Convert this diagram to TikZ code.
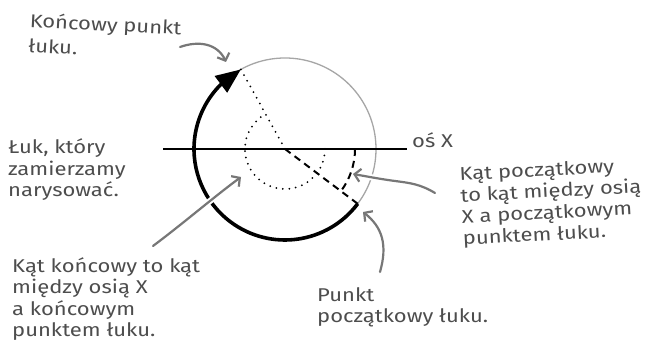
\documentclass[tikz,border=0pt]{standalone}
\usepackage{fontspec}
\setmainfont[FakeStretch=1.19]{Fira Sans}
\usetikzlibrary{arrows.meta,bending}
\definecolor{txt}{HTML}{4D4D4D}
\definecolor{arr}{HTML}{777777}
\definecolor{circ}{HTML}{A6A6A6}
\begin{document}
\begin{tikzpicture}[x=1pt,y=1pt,
  lbl/.style={text=txt, font=\fontsize{18.5}{21.5}\selectfont, align=left, inner sep=0pt, anchor=base west},
  callout/.style={draw=arr, line width=2.2pt, line cap=round, line join=round,
     -{Straight Barb[length=6pt,width=13pt]},
     preaction={draw=white, line width=6pt, -}},
  dotline/.style={line width=2pt, line cap=round, dash pattern=on 0pt off 6.5pt},
  dashline/.style={line width=2pt, dash pattern=on 7pt off 5pt},
]
\useasboundingbox (0,0) rectangle (651,344);
\coordinate (C) at (285,195);
\path (C) ++(-37:91) coordinate (S);
\path (C) ++(119:91) coordinate (E);
\path (C) ++(0:40) coordinate (D0);
\path (C) ++(0:70) coordinate (H0);
\coordinate (axL) at (163,195);
\coordinate (axR) at (407,195);

% full circle (grey)
\draw[circ, line width=1.3pt] (C) circle[radius=91];
% axis
\draw[line width=1.5pt] (axL) -- (axR);
% dotted radius and angle
\draw[dotline] (C) -- (E);
\draw[dotline] (D0) arc[start angle=0, end angle=-241, radius=40];
% dashed radius and angle
\draw[dashline] (C) -- (S);
\draw[dashline] (H0) arc[start angle=0, end angle=-37, radius=70];
% the arc itself
\draw[line width=3.6pt, -{Triangle[length=25pt,width=20pt,flex]}] (S) arc[start angle=-37, end angle=-241, radius=91];

% labels (anchor = baseline of the last line)
\node[lbl, rotate=-3, font=\fontsize{18.5}{25}\selectfont] (t1) at (28,292) {Końcowy punkt\\łuku.};
\node[lbl] (t2) at (8,147) {Łuk, który\\zamierzamy\\narysować.};
\node[lbl, rotate=3, font=\fontsize{18.5}{21.5}\selectfont] (t3) at (463,99) {Kąt początkowy\\to kąt między osią\\X a początkowym\\punktem łuku.};
\node[lbl] (t4) at (12,7) {Kąt końcowy to kąt\\między osią X\\a końcowym\\punktem łuku.};
\node[lbl] (t5) at (317,21) {Punkt\\początkowy łuku.};
\node[lbl] (t6) at (412,196) {oś X};

% callout arrows
\coordinate (a1s) at (180,297); \coordinate (a1e) at (226,282);
\coordinate (a2s) at (153,98);  \coordinate (a2e) at (241,167);
\coordinate (a3s) at (435,151); \coordinate (a3e) at (353,170);
\coordinate (a4s) at (380,72);  \coordinate (a4e) at (363,132);
\draw[callout] (a1s) .. controls (200,304) and (219,300) .. (a1e);
\draw[callout] (a2s) .. controls (185,122) and (215,148) .. (a2e);
\draw[callout] (a3s) .. controls (420,160) and (410,161) .. (395,163) .. controls (380,165) and (370,167) .. (a3e);
\draw[callout] (a4s) .. controls (388,100) and (382,118) .. (a4e);
\end{tikzpicture}
\end{document}
